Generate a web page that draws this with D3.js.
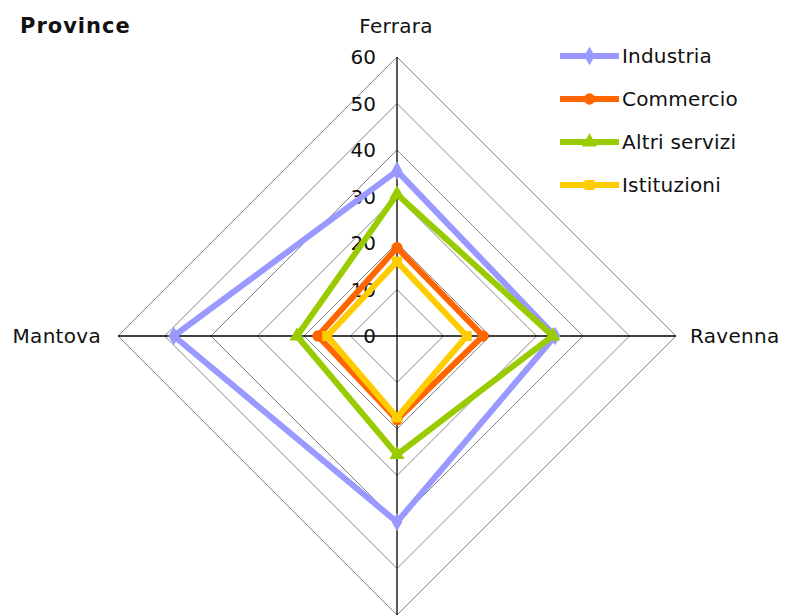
<!DOCTYPE html>
<html>
<head>
<meta charset="utf-8">
<script src="https://cdn.jsdelivr.net/npm/d3@7/dist/d3.min.js"></script>
<style>
  html, body { margin: 0; padding: 0; background: #ffffff; }
  svg { display: block; }
  text { font-family: "DejaVu Sans", Verdana, sans-serif; fill: #111; }
</style>
</head>
<body>
<svg id="chart" width="791" height="615"></svg>
<script>
// Province axes, clockwise from the top
const categories = ["Ferrara", "Ravenna", "", "Mantova"];
const seriesNames = ["Industria", "Commercio", "Altri servizi", "Istituzioni"];
const industria   = [35.5, 34, 40, 48];
const commercio   = [19, 18.5, 18, 17];
const altriServizi = [30.5, 33.5, 25.5, 21.5];
const istituzioni = [16, 15, 17.5, 15];
const tickValues = [0, 10, 20, 30, 40, 50, 60];

const seriesValues = [industria, commercio, altriServizi, istituzioni];
const seriesColors = ["#9999ff", "#ff6600", "#99cc00", "#ffcc00"];
const seriesMarkers = [d3.symbolDiamond, d3.symbolCircle, d3.symbolTriangle, d3.symbolSquare];

const svg = d3.select("#chart");
const cx = 397, cy = 336, R = 279;

const r = d3.scaleLinear().domain([0, 60]).range([0, R]);
const ang = i => i * 2 * Math.PI / categories.length;
const px = (i, v) => cx + r(v) * Math.sin(ang(i));
const py = (i, v) => cy - r(v) * Math.cos(ang(i));

const g = svg.append("g");

// Grid rings
tickValues.filter(t => t > 0).forEach(t => {
  const pts = categories.map((c, i) => [px(i, t), py(i, t)]);
  g.append("path")
    .attr("d", d3.line()(pts) + "Z")
    .attr("fill", "none")
    .attr("stroke", "#858585")
    .attr("stroke-width", 1);
});

// Spokes
categories.forEach((c, i) => {
  g.append("line")
    .attr("x1", cx).attr("y1", cy)
    .attr("x2", px(i, 60)).attr("y2", py(i, 60))
    .attr("stroke", "#000").attr("stroke-width", 1.3);
});

// Value ticks along the top spoke
g.selectAll(".tick").data(tickValues).enter().append("text")
  .attr("x", cx - 21)
  .attr("y", t => cy - r(t) + 7)
  .attr("text-anchor", "end")
  .attr("font-size", 20)
  .text(t => t);

// Category labels
const labelPos = [
  { x: 396, y: 33, anchor: "middle" },
  { x: 690, y: cy + 7, anchor: "start" },
  { x: cx, y: 645, anchor: "middle" },
  { x: 101, y: cy + 7, anchor: "end" }
];
categories.forEach((c, i) => {
  if (!c) return;
  g.append("text")
    .attr("x", labelPos[i].x).attr("y", labelPos[i].y)
    .attr("text-anchor", labelPos[i].anchor)
    .attr("font-size", 20)
    .attr("letter-spacing", 0.3)
    .text(c);
});

// Series polygons and markers
seriesValues.forEach((vals, s) => {
  const pts = vals.map((v, i) => [px(i, v), py(i, v)]);
  g.append("path")
    .attr("d", d3.line()(pts) + "Z")
    .attr("fill", "none")
    .attr("stroke", seriesColors[s])
    .attr("stroke-width", 6)
    .attr("stroke-linejoin", "miter");
  g.selectAll(null).data(pts).enter().append("path")
    .attr("transform", d => `translate(${d[0]},${d[1]})`)
    .attr("d", d3.symbol().type(seriesMarkers[s]).size(100))
    .attr("fill", seriesColors[s]);
});

// Title
svg.append("text")
  .attr("x", 20).attr("y", 33)
  .attr("font-size", 21)
  .attr("font-weight", "bold")
  .attr("letter-spacing", 1)
  .text("Province");

// Legend
const legend = svg.append("g");
seriesNames.forEach((name, s) => {
  const y = 56 + s * 43;
  legend.append("line")
    .attr("x1", 560).attr("x2", 619).attr("y1", y).attr("y2", y)
    .attr("stroke", seriesColors[s]).attr("stroke-width", 6);
  legend.append("path")
    .attr("transform", `translate(589.5,${y})`)
    .attr("d", d3.symbol().type(seriesMarkers[s]).size(100))
    .attr("fill", seriesColors[s]);
  legend.append("text")
    .attr("x", 622).attr("y", y + 7)
    .attr("font-size", 20)
    .attr("letter-spacing", 0.2)
    .text(name);
});
</script>
</body>
</html>
